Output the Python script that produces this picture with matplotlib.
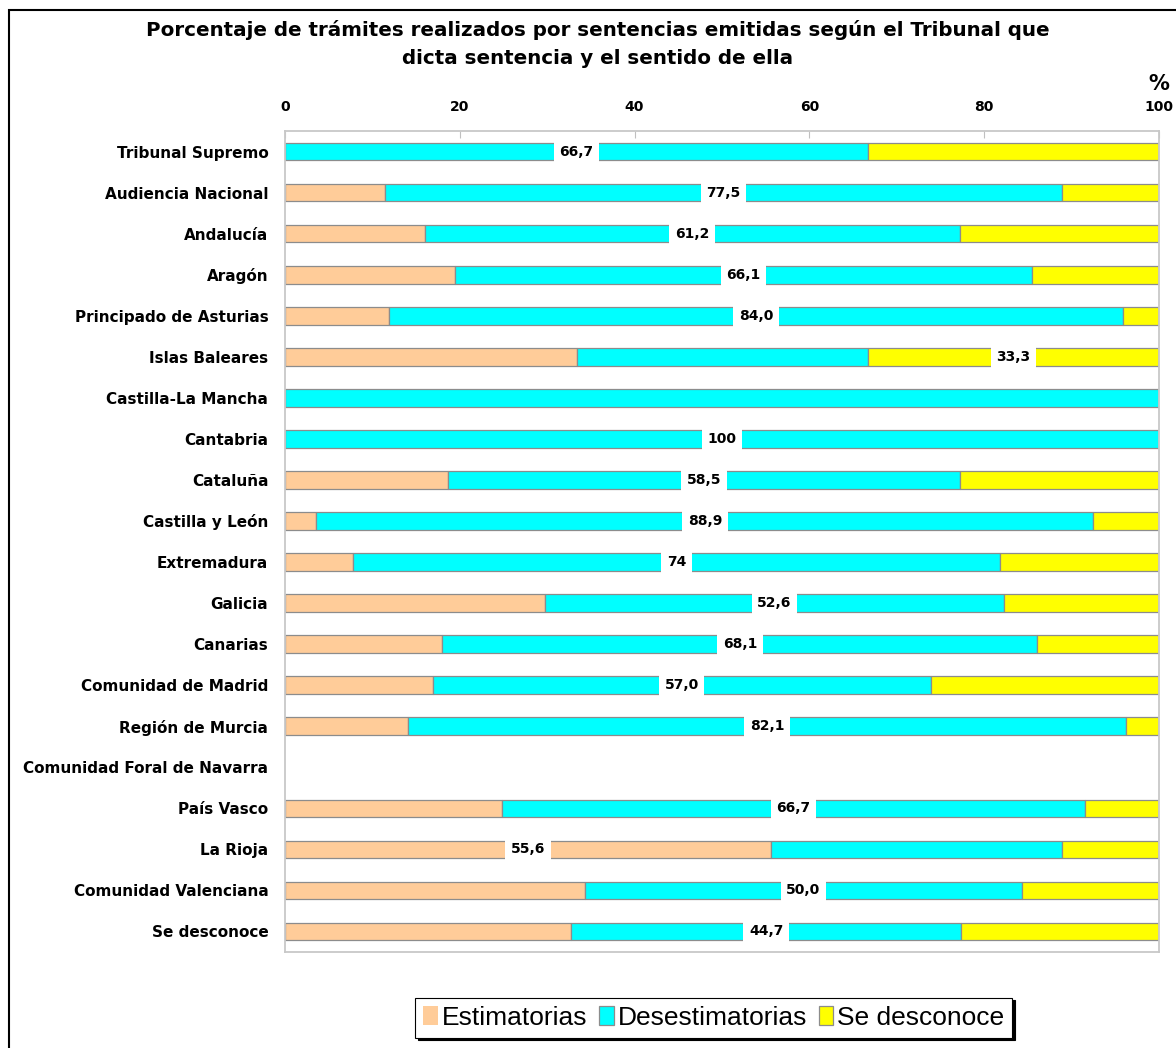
import matplotlib
matplotlib.use("Agg")
import matplotlib.pyplot as plt
from matplotlib.patches import Rectangle
import numpy as np

# Data (percent), top to bottom
tribunales = ["Tribunal Supremo", "Audiencia Nacional", "Andalucía", "Aragón",
              "Principado de Asturias", "Islas Baleares", "Castilla-La Mancha",
              "Cantabria", "Cataluña", "Castilla y León", "Extremadura", "Galicia",
              "Canarias", "Comunidad de Madrid", "Región de Murcia",
              "Comunidad Foral de Navarra", "País Vasco", "La Rioja",
              "Comunidad Valenciana", "Se desconoce"]
estimatorias = [0, 11.4, 16.0, 19.4, 11.9, 33.4, 0, 0, 18.7, 3.6,
                7.8, 29.7, 18.0, 16.9, 14.1, 0, 24.8, 55.6, 34.3, 32.7]
desestimatorias = [66.7, 77.5, 61.2, 66.1, 84.0, 33.3, 100, 100, 58.5, 88.9,
                   74.0, 52.6, 68.1, 57.0, 82.1, 0, 66.7, 33.3, 50.0, 44.7]
se_desconoce = [33.3, 11.1, 22.8, 14.5, 4.1, 33.3, 0, 0, 22.8, 7.5,
                18.2, 17.7, 13.9, 26.1, 3.8, 0, 8.5, 11.1, 15.7, 22.6]
# printed label and which series carries it
label_text = ["66,7", "77,5", "61,2", "66,1", "84,0", "33,3", None, "100", "58,5", "88,9",
              "74", "52,6", "68,1", "57,0", "82,1", None, "66,7", "55,6", "50,0", "44,7"]
label_serie = [1, 1, 1, 1, 1, 2, None, 1, 1, 1, 1, 1, 1, 1, 1, None, 1, 0, 1, 1]
ticks = [0, 20, 40, 60, 80, 100]

series = [estimatorias, desestimatorias, se_desconoce]
nombres = ["Estimatorias", "Desestimatorias", "Se desconoce"]
colores = ["#FFCC99", "#00FFFF", "#FFFF00"]

fig = plt.figure(figsize=(11.76, 10.48), dpi=100)
ax = fig.add_axes([0.2423, 0.0916, 0.7432, 0.7834])

y = np.arange(len(tribunales))
left = np.zeros(len(tribunales))
for vals, nombre, col in zip(series, nombres, colores):
    vals = np.array(vals)
    lw = [0.9 if v > 0 else 0 for v in vals]
    ax.barh(y, vals, left=left, height=0.43, color=col, edgecolor="#8c8c8c",
            linewidth=lw, label=nombre)
    left = left + vals

# data labels at the middle of the marked segment
for i, (txt, s) in enumerate(zip(label_text, label_serie)):
    if txt is None:
        continue
    start = sum(series[k][i] for k in range(s))
    xm = start + series[s][i] / 2
    ax.text(xm, i, txt, ha="center", va="center", fontsize=10, fontweight="bold",
            family="DejaVu Sans",
            bbox=dict(facecolor="white", edgecolor="none", pad=4))

ax.set_xlim(0, 100)
ax.set_ylim(len(tribunales) - 0.5, -0.5)
ax.set_yticks(y)
ax.set_yticklabels(tribunales, fontsize=11, fontweight="bold", family="DejaVu Sans")
ax.set_xticks(ticks)
ax.set_xticklabels([str(t) for t in ticks], fontsize=10, fontweight="bold",
                   family="DejaVu Sans")
ax.xaxis.tick_top()
ax.tick_params(axis="x", direction="in", length=5, color="#c0c0c0", pad=12)
ax.tick_params(axis="y", length=0, pad=12)
for sp in ax.spines.values():
    sp.set_color("#c8c8c8")
    sp.set_linewidth(1.3)

fig.text(0.508, 0.971, "Porcentaje de trámites realizados por sentencias emitidas según el Tribunal que",
         ha="center", va="center", fontsize=14.3, fontweight="bold", family="DejaVu Sans")
fig.text(0.508, 0.944, "dicta sentencia y el sentido de ella",
         ha="center", va="center", fontsize=14.3, fontweight="bold", family="DejaVu Sans")
fig.text(0.985, 0.920, "%", ha="center", va="center", fontsize=15, fontweight="bold",
         family="DejaVu Sans")

# outer frame, running off the right and bottom edges
fig.patches.append(Rectangle((0.0077, -0.05), 1.1, 1.04, transform=fig.transFigure,
                             fill=False, edgecolor="black", linewidth=1.5))

leg = fig.legend(loc="center", bbox_to_anchor=(0.607, 0.029), ncol=3,
                 prop={"family": "Liberation Sans", "size": 19},
                 frameon=True, fancybox=False, shadow={"color": "black", "alpha": 1},
                 handlelength=0.55, handleheight=0.75, handletextpad=0.15,
                 columnspacing=0.45, borderpad=0.3, edgecolor="black")
leg.get_frame().set_linewidth(0.8)
for h in leg.legend_handles:
    h.set_edgecolor("#8c8c8c")

fig.savefig("out.png", dpi=100)
